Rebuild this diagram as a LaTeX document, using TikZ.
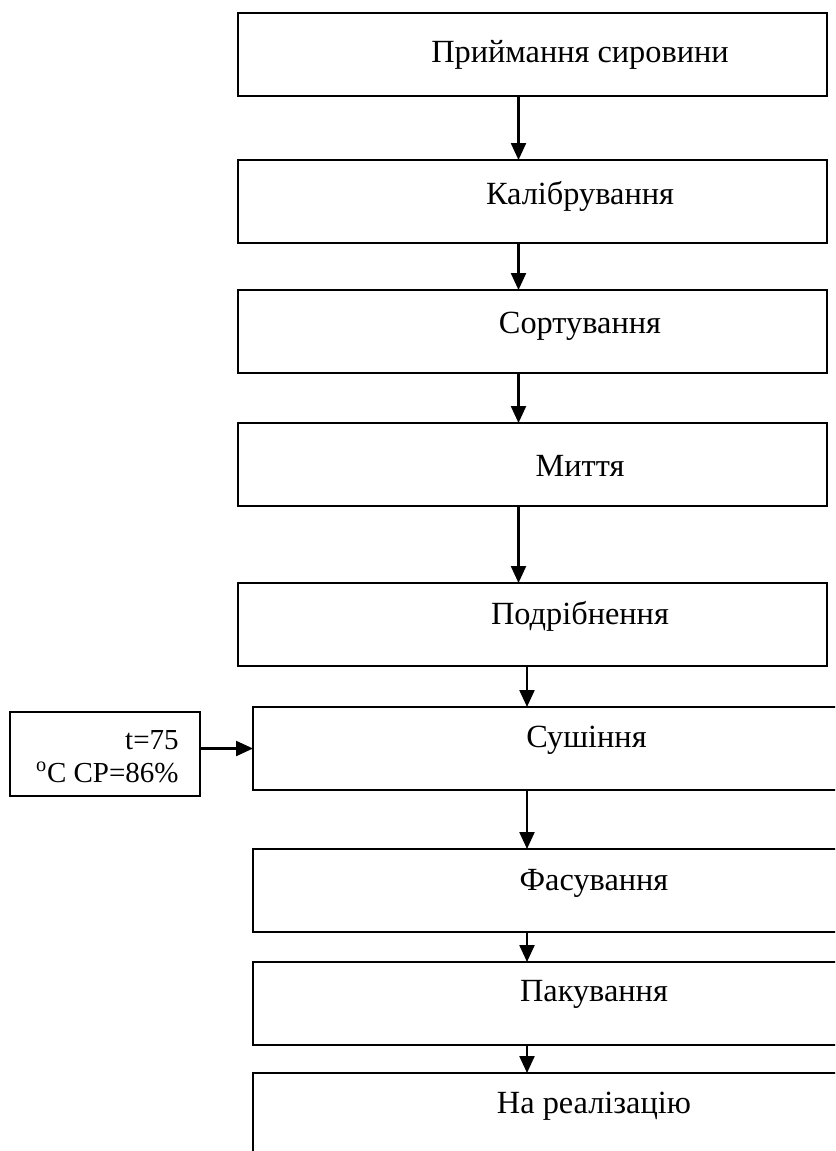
\documentclass[tikz,border=0pt]{standalone}
\usepackage{fontspec}
\setmainfont{Liberation Serif}
\usetikzlibrary{positioning, arrows.meta}

\begin{document}
\begin{tikzpicture}[
    node distance=1cm,
    >={Triangle[length=0.34cm, width=0.3cm]},
    box/.style={
        rectangle,
        draw=black,
        line width=1.3pt,
        minimum width=#1,
        minimum height=1.66cm,
        inner sep=0pt,
        outer sep=0pt
    },
    box/.default=11.78cm,
    sidebox/.style={
        rectangle,
        draw=black,
        line width=1.3pt,
        minimum width=3.8cm,
        minimum height=1.68cm,
        inner sep=0pt,
        outer sep=0pt
    },
    boxtext/.style={
        anchor=mid,
        inner sep=0pt,
        font=\fontsize{18.4}{22}\selectfont
    },
    sidetext/.style={
        anchor=east,
        align=right,
        inner sep=0pt,
        font=\fontsize{16.5}{18.9}\selectfont
    },
    arrow/.style={
        ->,
        line width=1.3pt
    }
]

% Page
\useasboundingbox (0,0) rectangle (16.7,-23.02);
\clip (0,0) rectangle (16.7,-23.02);

% Box 1
\node[box] (B1) at (10.65,-1.09) {};
\node[boxtext] at ([xshift=0.95cm, yshift=-0.90cm]B1.north) {Приймання сировини};

% Box 2
\node[box, below=1.28cm of B1] (B2) {};
\node[boxtext] at ([xshift=0.95cm, yshift=-0.80cm]B2.north) {Калібрування};

% Box 3
\node[box, below=0.94cm of B2] (B3) {};
\node[boxtext] at ([xshift=0.95cm, yshift=-0.78cm]B3.north) {Сортування};

% Box 4
\node[box, below=1.0cm of B3] (B4) {};
\node[boxtext] at ([xshift=0.95cm, yshift=-0.98cm]B4.north) {Миття};

% Box 5
\node[box, below=1.54cm of B4] (B5) {};
\node[boxtext] at ([xshift=0.95cm, yshift=-0.74cm]B5.north) {Подрібнення};

% Box 6
\node[box=12.34cm, below=0.82cm of B5.south west, anchor=north west, xshift=0.3cm] (B6) {};
\node[boxtext] at ([xshift=0.5cm, yshift=-0.72cm]B6.north) {Сушіння};

% Side box (left)
\node[sidebox] (SB) at (2.1,-15.08) {};
\node[sidetext] at ([xshift=-0.42cm, yshift=-0.06cm]SB.east) {t=75\\\textsuperscript{o}C СР=86\%};

% Box 7
\node[box=12.34cm, below=1.18cm of B6] (B7) {};
\node[boxtext] at ([xshift=0.65cm, yshift=-0.74cm]B7.north) {Фасування};

% Box 8
\node[box=12.34cm, below=0.6cm of B7] (B8) {};
\node[boxtext] at ([xshift=0.65cm, yshift=-0.70cm]B8.north) {Пакування};

% Box 9
\node[box=12.34cm, minimum height=2.6cm, below=0.56cm of B8] (B9) {};
\node[boxtext] at ([xshift=0.65cm, yshift=-0.72cm]B9.north) {На реалізацію};

% Arrows
\draw[arrow] ([xshift=-0.28cm]B1.south) -- ([xshift=-0.28cm]B1.south |- B2.north);
\draw[arrow] ([xshift=-0.28cm]B2.south) -- ([xshift=-0.28cm]B2.south |- B3.north);
\draw[arrow] ([xshift=-0.28cm]B3.south) -- ([xshift=-0.28cm]B3.south |- B4.north);
\draw[arrow] ([xshift=-0.28cm]B4.south) -- ([xshift=-0.28cm]B4.south |- B5.north);
\draw[arrow] ([xshift=-0.11cm]B5.south) -- ([xshift=-0.11cm]B5.south |- B6.north);
\draw[arrow] ([xshift=-0.69cm]B6.south) -- ([xshift=-0.69cm]B6.south |- B7.north);
\draw[arrow] ([xshift=-0.69cm]B7.south) -- ([xshift=-0.69cm]B7.south |- B8.north);
\draw[arrow] ([xshift=-0.69cm]B8.south) -- ([xshift=-0.69cm]B8.south |- B9.north);

\draw[arrow] (SB.east |- B6.west) -- (B6.west);

\end{tikzpicture}
\end{document}
